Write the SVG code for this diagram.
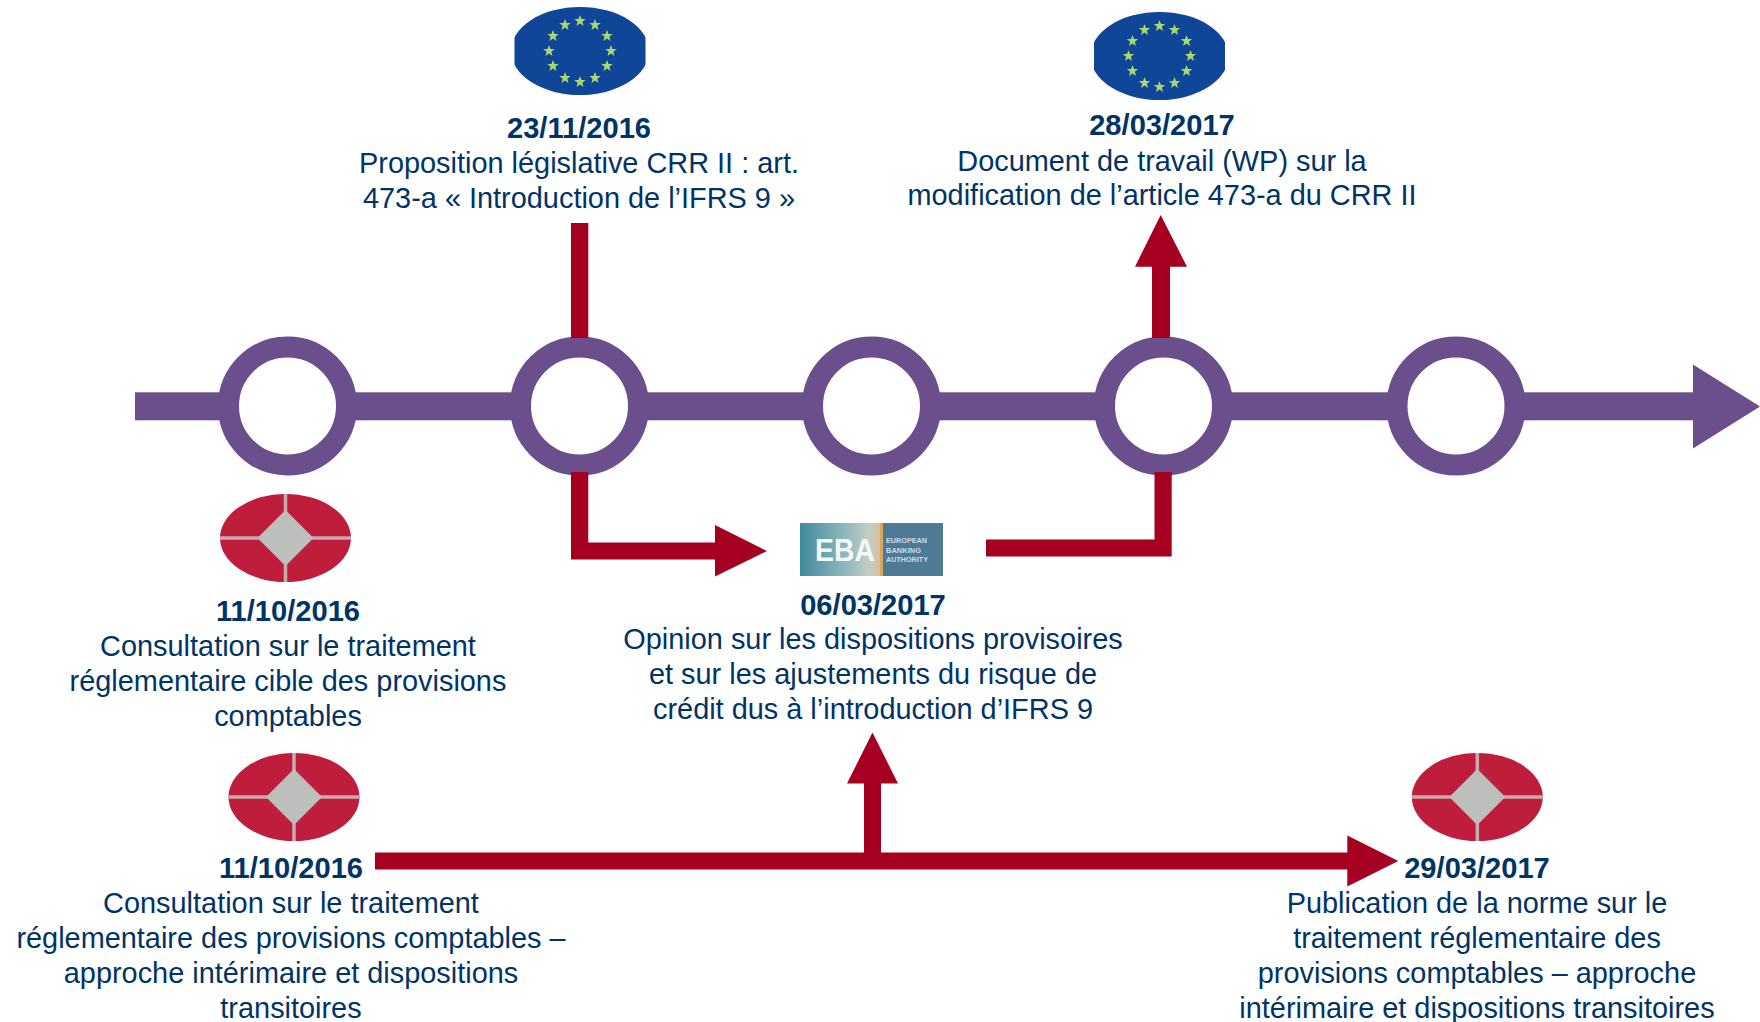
<svg xmlns="http://www.w3.org/2000/svg" xmlns:xlink="http://www.w3.org/1999/xlink" width="1760" height="1022" viewBox="0 0 1760 1022">
<style>
text{font-family:"Liberation Sans",Arial,sans-serif;fill:#003366;font-size:28.900px;text-anchor:middle}
.d{font-weight:700;font-size:29.100px}
.ring{fill:#fff;stroke:#6B4E8C;stroke-width:21}
.tl{fill:#6B4E8C}
.rd{fill:#A50021}
.sm{fill:#CFDDE6;font-size:7.500px;font-weight:700;text-anchor:start}
</style>
<defs>
<polygon id="st" points="0,-6 1.5,-1.9 5.7,-1.9 2.4,0.8 3.5,4.9 0,2.5 -3.5,4.9 -2.4,0.8 -5.7,-1.9 -1.5,-1.9" fill="#A9D86E"/>
<clipPath id="fc"><rect x="-65.500" y="-44" width="131" height="88"/></clipPath>
<g id="eu"><ellipse cx="0" cy="0" rx="69" ry="44" fill="#0F4697" clip-path="url(#fc)"/>
<use xlink:href="#st" x="0" y="-30"/><use xlink:href="#st" x="15" y="-26"/><use xlink:href="#st" x="27" y="-15"/><use xlink:href="#st" x="31" y="0"/><use xlink:href="#st" x="27" y="15"/><use xlink:href="#st" x="15" y="27"/><use xlink:href="#st" x="0" y="31"/><use xlink:href="#st" x="-15" y="27"/><use xlink:href="#st" x="-27" y="15"/><use xlink:href="#st" x="-31" y="0"/><use xlink:href="#st" x="-27" y="-15"/><use xlink:href="#st" x="-15" y="-26"/></g>
<g id="bk"><ellipse cx="0" cy="0" rx="65.500" ry="44" fill="#BE1E3C"/>
<path d="M-65.500,0H65.500M0,-44V44" stroke="#C9A8AE" stroke-width="3.500" fill="none"/>
<polygon points="0,-28 28,0 0,28 -28,0" fill="#BDBFBD"/></g>
<linearGradient id="eg" x1="0" x2="1" y1="0" y2="0"><stop offset="0" stop-color="#3F8A9C"/><stop offset="0.55" stop-color="#8DB7BC"/><stop offset="0.85" stop-color="#C4CDC4"/><stop offset="1" stop-color="#D9BE98"/></linearGradient>
</defs>
<g id="timeline">
<rect class="tl" x="135" y="392.300" width="1558" height="28"/>
<polygon class="tl" points="1693,364.500 1760,406.500 1693,448.500"/>
</g>
<g id="n1"><circle class="ring" cx="287.500" cy="406" r="59"/>
<use xlink:href="#bk" x="285.500" y="538"/>
<text class="d" x="288" y="620.500">11/10/2016</text>
<text x="288" y="655.500">Consultation sur le traitement</text>
<text x="288" y="690.500">réglementaire cible des provisions</text>
<text x="288" y="725.500">comptables</text></g>
<g id="n2"><circle class="ring" cx="579.500" cy="406" r="59"/>
<use xlink:href="#eu" x="580" y="51"/>
<text class="d" x="579" y="137.500">23/11/2016</text>
<text x="579" y="172.500">Proposition législative CRR II : art.</text>
<text x="579" y="207.500">473-a « Introduction de l’IFRS 9 »</text></g>
<g id="n3"><circle class="ring" cx="871.500" cy="406" r="59"/>
<rect x="800" y="523" width="81" height="53" fill="url(#eg)"/><rect x="880" y="523" width="3" height="53" fill="#D8A95A"/><rect x="883" y="523" width="60" height="53" fill="#4E7A96"/>
<text x="845" y="561" textLength="60" lengthAdjust="spacingAndGlyphs" style="fill:#f4f7f7;font-size:32px;font-weight:700">EBA</text>
<text class="sm" x="886" y="543" textLength="41" lengthAdjust="spacingAndGlyphs">EUROPEAN</text>
<text class="sm" x="886" y="552.500" textLength="35" lengthAdjust="spacingAndGlyphs">BANKING</text>
<text class="sm" x="886" y="562" textLength="42" lengthAdjust="spacingAndGlyphs">AUTHORITY</text>
<text class="d" x="873" y="614.500">06/03/2017</text>
<text x="873" y="649.300">Opinion sur les dispositions provisoires</text>
<text x="873" y="684.300">et sur les ajustements du risque de</text>
<text x="873" y="719.300">crédit dus à l’introduction d’IFRS 9</text></g>
<g id="n4"><circle class="ring" cx="1163.500" cy="406" r="59"/>
<use xlink:href="#eu" x="1159.500" y="56"/>
<text class="d" x="1162" y="135.300">28/03/2017</text>
<text x="1162" y="170.500">Document de travail (WP) sur la</text>
<text x="1162" y="205.300">modification de l’article 473-a du CRR II</text></g>
<g id="n5"><circle class="ring" cx="1456" cy="406" r="59"/></g>
<g id="n6"><use xlink:href="#bk" x="294" y="797"/>
<text class="d" x="291" y="877.500">11/10/2016</text>
<text x="291" y="912.500">Consultation sur le traitement</text>
<text x="291" y="947.500">réglementaire des provisions comptables –</text>
<text x="291" y="982.500">approche intérimaire et dispositions</text>
<text x="291" y="1017.500">transitoires</text></g>
<g id="n7"><use xlink:href="#bk" x="1477.300" y="797"/>
<text class="d" x="1477" y="877.500">29/03/2017</text>
<text x="1477" y="912.500">Publication de la norme sur le</text>
<text x="1477" y="947.500">traitement réglementaire des</text>
<text x="1477" y="982.500">provisions comptables – approche</text>
<text x="1477" y="1017.500">intérimaire et dispositions transitoires</text></g>
<g id="connectors">
<rect class="rd" x="571" y="223" width="17.300" height="115"/>
<path class="rd" d="M571,472H588.300V542.500H715V525L767,551L715,576.500V559.500H571Z"/>
<path class="rd" d="M986,539.500H1154.500V472H1171.700V556.500H986Z"/>
<path class="rd" d="M1152,338V266.700H1135L1160.700,215L1187,266.700H1170V338Z"/>
<path class="rd" d="M375,852.500H864V783.500H847L872.500,732.500L898,783.500H881V852.500H1347.300V835.500L1398.300,861L1347.300,886.500V869.500H375Z"/>
</g>
</svg>
